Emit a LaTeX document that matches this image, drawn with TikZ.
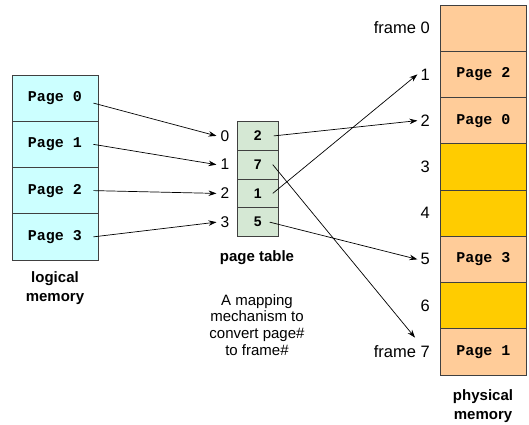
\documentclass[tikz,border=0pt]{standalone}
\usepackage{fontspec}
\setmainfont{Liberation Sans}
\setmonofont{Liberation Mono}
\usetikzlibrary{arrows.meta}
\definecolor{lcyan}{HTML}{CCFFFF}
\definecolor{ptgreen}{HTML}{D5E8D4}
\definecolor{peach}{HTML}{FFCC99}
\definecolor{gold}{HTML}{FFCC00}
\begin{document}
\begin{tikzpicture}[x=1pt,y=-1pt,
  box/.style={draw=black!75,line width=0.9pt,inner sep=0pt},
  pagetxt/.style={font=\ttfamily\bfseries\fontsize{15}{18}\selectfont},
  lbl/.style={font=\fontsize{16.5}{19}\selectfont,inner sep=3pt},
  captxt/.style={font=\bfseries\fontsize{15}{18.5}\selectfont,align=center,inner sep=0pt},
  arr/.style={-{Stealth[length=8pt,width=5.5pt]},line width=0.7pt}]
\useasboundingbox (0,0) rectangle (529,424);
\def\lcell#1#2{
\node [box,pagetxt,fill=lcyan,minimum width=86pt,minimum height=46.25pt] (lm#1) at (55,98.1+46.25*#1) {#2};
}
\def\ptcell#1#2{
\node [box,fill=ptgreen,minimum width=41pt,minimum height=28.75pt,font=\bfseries\fontsize{14}{16}\selectfont] (pt#1) at (257.8,135.9+28.75*#1) {#2};
\node [lbl,font=\fontsize{15.5}{18}\selectfont,inner sep=4pt] (ix#1) at (225,135.9+28.75*#1) {#1};
}
\def\phcell#1#2#3#4{
\node [box,pagetxt,fill=#3,minimum width=86.7pt,minimum height=46.25pt] (pm#1) at (483.3,28.1+46.25*#1) {#2};
\node [lbl,anchor=east] (f#1) at (433,28.1+46.25*#1) {#4};
}
\lcell{0}{Page 0}
\lcell{1}{Page 1}
\lcell{2}{Page 2}
\lcell{3}{Page 3}
\node [captxt] (lmcap) at (55,288) {logical\\memory};
\ptcell{0}{2}
\ptcell{1}{7}
\ptcell{2}{1}
\ptcell{3}{5}
\node [captxt] (ptcap) at (257,258) {page table};
\node [align=center,inner sep=0pt,font=\fontsize{15}{16.8}\selectfont] (ptnote) at (257,325) {A mapping\\mechanism to\\convert page\#\\to frame\#};
\phcell{0}{}{peach}{frame 0}
\phcell{1}{Page 2}{peach}{1}
\phcell{2}{Page 0}{peach}{2}
\phcell{3}{}{gold}{3}
\phcell{4}{}{gold}{4}
\phcell{5}{Page 3}{peach}{5}
\phcell{6}{}{gold}{6}
\phcell{7}{Page 1}{peach}{frame 7}
\node [captxt] (pmcap) at (483,406) {physical\\memory};
\draw [arr] ([xshift=-5pt,yshift=-5pt]lm0.east) -- (ix0.west);
\draw [arr] ([xshift=-5pt]lm1.east) -- (ix1.west);
\draw [arr] ([xshift=-5pt]lm2.east) -- (ix2.west);
\draw [arr] ([xshift=-5pt]lm3.east) -- (ix3.west);
\draw [arr] ([xshift=-5pt]pt0.east) -- (f2.west);
\draw [arr] ([xshift=-6pt]pt1.east) -- ([xshift=-18pt,yshift=5pt]f7.north east);
\draw [arr] ([xshift=-6pt]pt2.east) -- (f1.west);
\draw [arr] ([xshift=-9pt]pt3.east) -- (f5.west);
\end{tikzpicture}
\end{document}
